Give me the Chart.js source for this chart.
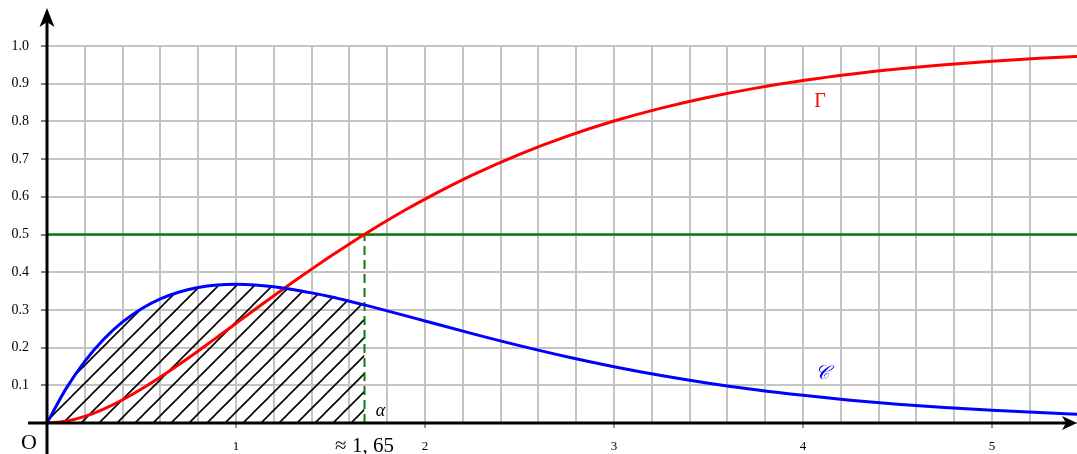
<!DOCTYPE html>
<html>
<head>
<meta charset="utf-8">
<title>Courbes C et Γ</title>
<script src="https://cdn.jsdelivr.net/npm/chart.js@4.4.1/dist/chart.umd.min.js"></script>
<style>
  html, body { margin: 0; padding: 0; background: #ffffff; }
  #graph { display: block; }
</style>
</head>
<body>
<canvas id="graph" width="1077" height="454"></canvas>
<script>
// --- 1. DATA ---
const xValues = [0, 0.1, 0.2, 0.3, 0.4, 0.5, 0.6, 0.7, 0.8, 0.9, 1.0, 1.1, 1.2, 1.3, 1.4, 1.5, 1.6, 1.7, 1.8, 1.9, 2.0,
                 2.25, 2.5, 2.75, 3.0, 3.25, 3.5, 3.75, 4.0, 4.25, 4.5, 4.75, 5.0, 5.25, 5.5];
// courbe C (bleue)
const cValues = [0, 0.0905, 0.1637, 0.2222, 0.2681, 0.3033, 0.3293, 0.3476, 0.3595, 0.3659, 0.3679, 0.3662, 0.3614,
                 0.3543, 0.3452, 0.3347, 0.3230, 0.3106, 0.2975, 0.2842, 0.2707,
                 0.2371, 0.2052, 0.1758, 0.1494, 0.1260, 0.1057, 0.0882, 0.0733, 0.0606, 0.0500, 0.0411, 0.0337, 0.0276, 0.0225];
// courbe Γ (rouge)
const gammaValues = [0, 0.0047, 0.0175, 0.0369, 0.0616, 0.0902, 0.1219, 0.1558, 0.1912, 0.2275, 0.2642, 0.3010, 0.3374,
                     0.3732, 0.4082, 0.4422, 0.4751, 0.5068, 0.5372, 0.5663, 0.5940,
                     0.6575, 0.7127, 0.7603, 0.8009, 0.8352, 0.8641, 0.8883, 0.9084, 0.9251, 0.9389, 0.9503, 0.9596, 0.9672, 0.9734];
// zone hachurée sous C, de 0 à alpha
const hatchX = [0, 0.1, 0.2, 0.3, 0.4, 0.5, 0.6, 0.7, 0.8, 0.9, 1.0, 1.1, 1.2, 1.3, 1.4, 1.5, 1.6, 1.68];
const hatchY = [0, 0.0905, 0.1637, 0.2222, 0.2681, 0.3033, 0.3293, 0.3476, 0.3595, 0.3659, 0.3679, 0.3662, 0.3614,
                0.3543, 0.3452, 0.3347, 0.3230, 0.3131];
const ALPHA = 1.68;          // position du trait pointillé
const ALPHA_LABEL = '\u2248 1, 65';
const LEVEL = 0.5;
const xTickLabels = ['1', '2', '3', '4', '5'];
const yTickLabels = ['0.1', '0.2', '0.3', '0.4', '0.5', '0.6', '0.7', '0.8', '0.9', '1.0'];

// --- 2. CONFIG ---
const CONFIG = {
    X_MAX: 5.45,
    COLORS: {
        C: '#0000ff',
        GAMMA: '#ff0000',
        GREEN: '#0a7d0a',
        GRID: '#c4c4c4',
        AXIS: '#000000'
    },
    FONT: 'Liberation Serif, Times New Roman, serif'
};

const toPoints = (xs, ys) => xs.map((x, i) => ({ x, y: ys[i] }));
const isInt = v => Math.abs(v - Math.round(v)) < 1e-6;

// motif de hachures (diagonales montantes)
function makeHatch() {
    const size = 18;
    const c = document.createElement('canvas');
    c.width = size; c.height = size;
    const g = c.getContext('2d');
    g.strokeStyle = '#000';
    g.lineWidth = 1.6;
    g.beginPath();
    g.moveTo(-2, size + 2); g.lineTo(size + 2, -2);
    g.moveTo(-2, 2); g.lineTo(2, -2);
    g.moveTo(size - 2, size + 2); g.lineTo(size + 2, size - 2);
    g.stroke();
    return g.createPattern(c, 'repeat');
}

// --- 3. AXES, FLECHES ET ETIQUETTES ---
const decorations = {
    id: 'decorations',
    afterDatasetsDraw(chart) {
        const { ctx, scales: { x, y } } = chart;
        const x0 = x.getPixelForValue(0);
        const y0 = y.getPixelForValue(0);
        const xa = x.getPixelForValue(ALPHA);
        ctx.save();
        ctx.strokeStyle = CONFIG.COLORS.AXIS;
        ctx.fillStyle = CONFIG.COLORS.AXIS;
        ctx.lineWidth = 3;
        // axe des abscisses
        ctx.beginPath();
        ctx.moveTo(28, y0); ctx.lineTo(1068, y0);
        ctx.stroke();
        ctx.beginPath();
        ctx.moveTo(1077, y0); ctx.lineTo(1062, y0 - 7); ctx.lineTo(1066, y0); ctx.lineTo(1062, y0 + 7);
        ctx.closePath(); ctx.fill();
        // axe des ordonnées
        ctx.beginPath();
        ctx.moveTo(x0, 454); ctx.lineTo(x0, 20);
        ctx.stroke();
        ctx.beginPath();
        ctx.moveTo(x0, 8); ctx.lineTo(x0 - 7.5, 27); ctx.lineTo(x0, 22); ctx.lineTo(x0 + 7.5, 27);
        ctx.closePath(); ctx.fill();

        // étiquettes
        ctx.textAlign = 'center';
        ctx.textBaseline = 'alphabetic';
        ctx.fillStyle = '#000';
        ctx.font = '22px ' + CONFIG.FONT;
        ctx.fillText('O', 29, 449);
        ctx.font = '21px ' + CONFIG.FONT;
        ctx.fillText(ALPHA_LABEL, xa, 452);
        ctx.font = 'italic 18px ' + CONFIG.FONT;
        ctx.fillText('\u03b1', xa + 16, 416);
        ctx.fillStyle = CONFIG.COLORS.GAMMA;
        ctx.font = '20px ' + CONFIG.FONT;
        ctx.fillText('\u0393', 820, 107);
        ctx.fillStyle = CONFIG.COLORS.C;
        ctx.font = 'italic 20px ' + CONFIG.FONT;
        ctx.fillText('\ud835\udc9e', 822, 379);
        ctx.restore();
    }
};

// --- 4. CHART ---
const ctx = document.getElementById('graph').getContext('2d');
const lineBase = { pointRadius: 0, pointHoverRadius: 0, fill: false };

new Chart(ctx, {
    type: 'line',
    data: {
        datasets: [
            {
                ...lineBase,
                data: toPoints(hatchX, hatchY),
                borderWidth: 0,
                borderColor: 'rgba(0,0,0,0)',
                backgroundColor: makeHatch(),
                fill: 'origin',
                cubicInterpolationMode: 'monotone',
                order: 6
            },
            {
                ...lineBase,
                data: [{ x: 0, y: LEVEL }, { x: CONFIG.X_MAX, y: LEVEL }],
                borderColor: CONFIG.COLORS.GREEN,
                borderWidth: 2.5,
                order: 4
            },
            {
                ...lineBase,
                data: [{ x: ALPHA, y: 0 }, { x: ALPHA, y: LEVEL }],
                borderColor: CONFIG.COLORS.GREEN,
                borderWidth: 2,
                borderDash: [9, 5],
                order: 3
            },
            {
                ...lineBase,
                data: toPoints(xValues, gammaValues),
                borderColor: CONFIG.COLORS.GAMMA,
                borderWidth: 3,
                cubicInterpolationMode: 'monotone',
                order: 2
            },
            {
                ...lineBase,
                data: toPoints(xValues, cValues),
                borderColor: CONFIG.COLORS.C,
                borderWidth: 3,
                cubicInterpolationMode: 'monotone',
                order: 1
            }
        ]
    },
    options: {
        responsive: false,
        animation: false,
        devicePixelRatio: 1,
        layout: { padding: { top: 46, left: 0, right: 0, bottom: 0 } },
        plugins: { legend: { display: false }, tooltip: { enabled: false } },
        scales: {
            x: {
                type: 'linear',
                min: 0,
                max: CONFIG.X_MAX,
                afterFit: s => { s.height = 31; s.paddingLeft = 0; s.paddingRight = 0; },
                border: { display: false },
                grid: {
                    color: c => (c.tick && c.tick.value > 5.41) ? 'rgba(0,0,0,0)' : CONFIG.COLORS.GRID,
                    lineWidth: 2,
                    tickLength: 5,
                    tickColor: c => (c.tick && isInt(c.tick.value) && c.tick.value > 0 && c.tick.value < 5.41) ? '#333' : 'rgba(0,0,0,0)',
                    tickWidth: 1
                },
                ticks: {
                    stepSize: 0.2,
                    autoSkip: false,
                    maxRotation: 0,
                    padding: 11,
                    color: '#000',
                    font: { family: CONFIG.FONT, size: 13 },
                    callback: v => (isInt(v) && v > 0 && v < 5.41) ? xTickLabels[Math.round(v) - 1] : ''
                }
            },
            y: {
                min: 0,
                max: 1.0,
                afterFit: s => { s.width = 47; s.paddingTop = 0; s.paddingBottom = 0; },
                border: { display: false },
                grid: {
                    color: CONFIG.COLORS.GRID,
                    lineWidth: 2,
                    tickLength: 6,
                    tickColor: c => (c.tick && c.tick.value > 0.05) ? '#000' : 'rgba(0,0,0,0)',
                    tickWidth: 1
                },
                ticks: {
                    stepSize: 0.1,
                    padding: 12,
                    color: '#000',
                    font: { family: CONFIG.FONT, size: 14 },
                    callback: v => v > 0.05 ? yTickLabels[Math.round(v * 10) - 1] : ''
                }
            }
        }
    },
    plugins: [decorations]
});
</script>
</body>
</html>
